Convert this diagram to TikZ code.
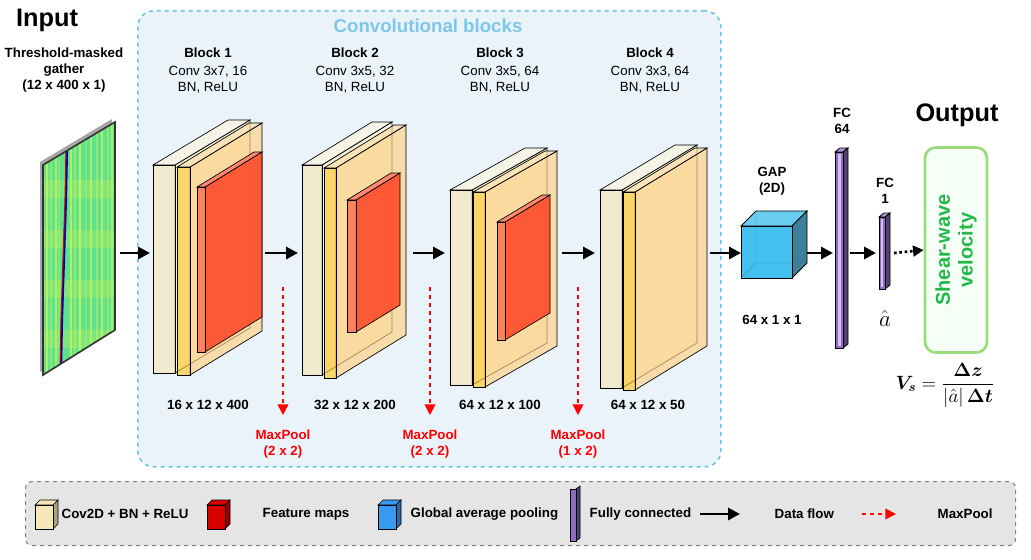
\documentclass[tikz,border=0pt]{standalone}
\usepackage{amsmath,bm}
\usepackage{fontspec}
\setmainfont{Liberation Sans}
\usetikzlibrary{arrows.meta}
\definecolor{cream}{HTML}{F6E7B9}
\definecolor{creamside}{HTML}{FBF1CC}
\definecolor{yel}{HTML}{FFC629}
\definecolor{yelside}{HTML}{FFCF80}
\definecolor{redf}{HTML}{FF4B2B}
\definecolor{redtop}{HTML}{FF7A55}
\definecolor{boxblue}{HTML}{EAF2FA}
\definecolor{dashblue}{HTML}{6EC6E6}
\definecolor{titleblue}{HTML}{7CC7EA}
\definecolor{gapf}{HTML}{45C0EE}
\definecolor{gaps}{HTML}{3C7F99}
\definecolor{purp}{HTML}{8E6BBF}
\definecolor{purpl}{HTML}{D4C2EE}
\definecolor{outgreen}{HTML}{9BDB7C}
\definecolor{txtgreen}{HTML}{22B94A}
\definecolor{legendgray}{HTML}{E5E5E5}
\definecolor{seis}{HTML}{5EE38C}
\definecolor{seisy}{HTML}{C9F25A}
\newcommand\slab[9][0.65]{%
  \draw[line width=0.5pt,fill=#9,fill opacity=#1] (#2+#5,#3) -- ++(#6,#7) -- ++(0,#4-#3) -- ++(-#6,-#7) -- cycle;
  \draw[line width=0.5pt,fill=#9!70!white,fill opacity=#1] (#2,#3) -- ++(#5,0) -- ++(#6,#7) -- ++(-#5,0) -- cycle;
  \draw[line width=0.5pt,fill=#8,fill opacity=#1] (#2,#3) rectangle (#2+#5,#4);}
\begin{document}
\begin{tikzpicture}[x=0.75pt,y=-0.75pt,
  lbl/.style={font=\fontsize{10}{12}\selectfont},
  blbl/.style={font=\bfseries\fontsize{10}{12}\selectfont},
  flow/.style={-{Triangle[length=9pt,width=9pt]},line width=2.2pt},
  pool/.style={-{Triangle[length=8pt,width=8pt]},red,dashed,line width=1.2pt},
  redtxt/.style={font=\bfseries\fontsize{10}{12}\selectfont,red,align=center}]
\useasboundingbox (0,0) rectangle (1031,560);
% conv blocks frame
\node[draw=dashblue,dashed,line width=1.2pt,fill=boxblue,rounded corners=12pt,minimum width=583*0.75pt,minimum height=456*0.75pt,anchor=north west] (frame) at (137,10) {};
\node[font=\bfseries\fontsize{14}{16}\selectfont,text=titleblue] (ctitle) at (428,26) {Convolutional blocks};
% input
\node[font=\bfseries\fontsize{19}{22}\selectfont] (intitle) at (47,20) {Input};
\node[font=\bfseries\fontsize{10}{12}\selectfont,align=center] (inlbl) at (64,70) {Threshold-masked\\gather\\(12 x 400 x 1)};
\fill[gray!70] (40,162) -- (112,119) -- (112,327) -- (40,372) -- cycle;
\begin{scope}
\clip (43,165) -- (115,122) -- (115,330) -- (43,375) -- cycle;
\fill[seis] (40,110) rectangle (120,380);
\foreach \x/\o in {46/0.8,50/0.4,55/0.7,58/0.3,70/0.8,74/0.5,79/0.9,85/0.3,90/0.7,96/0.5,101/0.8,107/0.4,111/0.7}
  \fill[seisy,opacity=\o] (\x,110) rectangle (\x+2.2,380);
\foreach \y in {180,230,280,330} \fill[seisy,opacity=0.3] (40,\y) rectangle (120,\y+18);
\draw[blue!70!black,line width=1.6pt] (67,150) -- (66,200) -- (64,260) -- (62,320) -- (61,372);
\draw[red!80!black,line width=0.8pt] (66,150) -- (65,200) -- (63,260) -- (61,320) -- (60,372);
\end{scope}
\draw[line width=1.2pt,black!80] (43,165) -- (115,122) -- (115,330) -- (43,375) -- cycle;
\coordinate (inR) at (120,253);
% Block labels
\foreach \n/\x/\c in {1/208/{Conv 3x7, 16},2/355/{Conv 3x5, 32},3/500/{Conv 3x5, 64},4/650/{Conv 3x3, 64}}{
  \node[font=\bfseries\fontsize{10}{12}\selectfont] (bt\n) at (\x,53) {Block \n};
  \node[lbl,align=center] (bc\n) at (\x,80) {\c\\BN, ReLU};}
% Block 1
\slab{153}{165}{373}{22}{75}{-45}{cream}{creamside}
\slab{177}{167}{375}{13}{72}{-44}{yel}{yelside}
\slab[0.9]{197}{187}{352}{8}{57}{-35}{redtop}{redf}
% Block 2
\slab{302}{165}{375}{20}{70}{-43}{cream}{creamside}
\slab{324}{168}{378}{12}{70}{-43}{yel}{yelside}
\slab[0.9]{347}{200}{332}{9}{44}{-27}{redtop}{redf}
% Block 3
\slab{450}{190}{385}{22}{75}{-42}{cream}{creamside}
\slab{473}{192}{387}{12}{72}{-41}{yel}{yelside}
\slab[0.9]{497}{222}{340}{8}{45}{-27}{redtop}{redf}
% Block 4
\slab{600}{190}{388}{22}{75}{-45}{cream}{creamside}
\slab{623}{192}{390}{12}{72}{-44}{yel}{yelside}
\coordinate (b1L) at (150,253); \coordinate (b1R) at (265,253);
\coordinate (b2L) at (298,253); \coordinate (b2R) at (413,253);
\coordinate (b3L) at (445,253); \coordinate (b3R) at (562,253);
\coordinate (b4L) at (595,253); \coordinate (b4R) at (710,253);
% dims
\node[blbl] (d1) at (208,405) {16 x 12 x 400};
\node[blbl] (d2) at (355,405) {32 x 12 x 200};
\node[blbl] (d3) at (500,405) {64 x 12 x 100};
\node[blbl] (d4) at (648,405) {64 x 12 x 50};
% maxpool
\foreach \i/\x/\k in {1/283/{2 x 2},2/430/{2 x 2},3/578/{1 x 2}}{
  \coordinate (mpa\i) at (\x,287);
  \node[redtxt] (mp\i) at (\x,444) {MaxPool\\(\k)};
  \draw[pool] (mpa\i) -- (\x,415);}
% GAP
\draw[line width=0.6pt,fill=gapf!80!white] (741,226) -- ++(15,-15) -- ++(51,0) -- ++(-15,15) -- cycle;
\draw[line width=0.6pt,fill=gaps] (792,226) -- ++(15,-15) -- ++(0,52) -- ++(-15,15) -- cycle;
\draw[line width=0.6pt,fill=gapf] (741,226) rectangle (792,278);
\draw[line width=0.3pt,gapf!60!black,opacity=0.6] (756,211) -- (756,263) -- (741,278) (756,263) -- (807,263);
\node[blbl,align=center] (gaplbl) at (772,181) {GAP\\(2D)};
\node[blbl] (gapdim) at (772,320) {64 x 1 x 1};
% FC64
\draw[line width=0.6pt,fill=purp!70] (835,152) -- ++(5,-4) -- ++(8,0) -- ++(-5,4) -- cycle;
\draw[line width=0.6pt,fill=purp!60!black] (843,152) -- ++(5,-4) -- ++(0,196) -- ++(-5,4) -- cycle;
\draw[line width=0.6pt,fill=purp] (835,152) rectangle (843,348);
\fill[purpl] (837.5,154) rectangle (840.5,346);
\node[blbl,align=center] (fc64lbl) at (842,121) {FC\\64};
\coordinate (fc64L) at (833,253); \coordinate (fc64R) at (850,253);
% FC1
\draw[line width=0.6pt,fill=purp!70] (879,217) -- ++(5,-4) -- ++(6,0) -- ++(-5,4) -- cycle;
\draw[line width=0.6pt,fill=purp!60!black] (885,217) -- ++(5,-4) -- ++(0,72) -- ++(-5,4) -- cycle;
\draw[line width=0.6pt,fill=purp] (879,217) rectangle (885,289);
\fill[purpl] (881,219) rectangle (883,287);
\node[blbl,align=center] (fc1lbl) at (885,191) {FC\\1};
\node[font=\fontsize{17}{18}\selectfont] (ahat) at (885,318) {$\hat{a}$};
\coordinate (fc1L) at (876,253); \coordinate (fc1R) at (894,253);
% Output
\node[font=\bfseries\fontsize{19}{22}\selectfont] (outtitle) at (957,115) {Output};
\node[draw=outgreen,line width=2pt,fill=green!4!white,rounded corners=8pt,minimum width=62*0.75pt,minimum height=205*0.75pt] (out) at (956,250) {};
\node[rotate=90,font=\bfseries\fontsize{15}{17}\selectfont,text=txtgreen,align=center] (outtxt) at (956,250) {Shear-wave\\velocity};
\node[font=\fontsize{14}{16}\selectfont] (formula) at (945,385) {$\bm{V_s}=\dfrac{\bm{\Delta z}}{|\hat{a}|\,\bm{\Delta t}}$};
% flows
\draw[flow] (inR) -- (b1L);
\draw[flow] (b1R) -- (b2L);
\draw[flow] (b2R) -- (b3L);
\draw[flow] (b3R) -- (b4L);
\draw[flow] (b4R) -- (741,253);
\draw[flow] (807,253) -- (fc64L);
\draw[flow] (fc64R) -- (fc1L);
\draw[-{Triangle[length=8pt,width=8pt]},line width=2pt,dotted] (fc1R) -- (out.west);
% legend
\node[draw=gray,dashed,line width=0.8pt,fill=legendgray,rounded corners=5pt,minimum width=990*0.75pt,minimum height=64*0.75pt,anchor=north west] (legend) at (25,481) {};
\newcommand\lcube[3]{%
  \draw[line width=0.5pt,fill=#3] (#1,#2) -- ++(5,-5) -- ++(18,0) -- ++(-5,5) -- cycle;
  \draw[line width=0.5pt,fill=#3!70!black] (#1+18,#2) -- ++(5,-5) -- ++(0,24) -- ++(-5,5) -- cycle;
  \draw[line width=0.5pt,fill=#3] (#1,#2) rectangle (#1+18,#2+24);}
\lcube{35}{505}{cream}
\node[blbl,anchor=west] (lg1) at (57,514) {Cov2D + BN + ReLU};
\lcube{207}{505}{red!85!black}
\node[blbl,anchor=west] (lg2) at (258,514) {Feature maps};
\lcube{378}{505}{gapf!80!blue}
\node[blbl,anchor=west] (lg3) at (406,514) {Global average pooling};
\draw[line width=0.5pt,fill=purp!60!black] (576,489) -- ++(4,-3) -- ++(0,52) -- ++(-4,3) -- cycle;
\draw[line width=0.5pt,fill=purp] (570,489) rectangle (576,541);
\node[blbl,anchor=west] (lg4) at (585,514) {Fully connected};
\coordinate (lfa) at (700,514); \coordinate (lfb) at (740,514);
\draw[flow] (lfa) -- (lfb);
\node[blbl,anchor=west] (lg5) at (770,514) {Data flow};
\coordinate (lpa) at (862,514); \coordinate (lpb) at (896,514);
\draw[pool] (lpa) -- (lpb);
\node[blbl,anchor=west] (lg6) at (933,514) {MaxPool};
\end{tikzpicture}
\end{document}
